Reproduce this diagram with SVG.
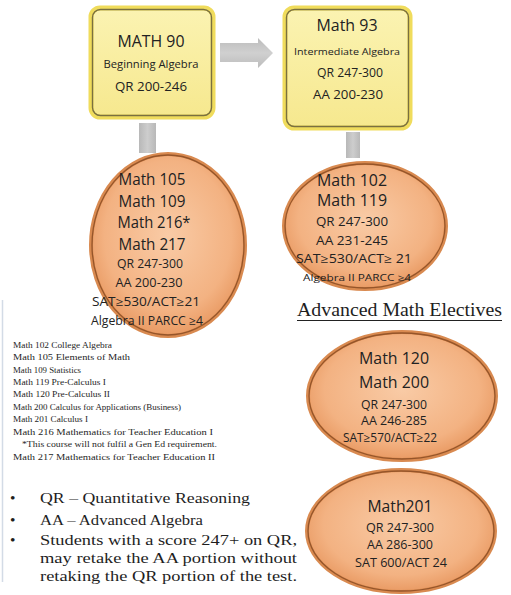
<svg xmlns="http://www.w3.org/2000/svg" width="511" height="595" viewBox="0 0 511 595">
<defs>
<linearGradient id="gy" x1="0" y1="0" x2="0" y2="1">
<stop offset="0" stop-color="#fbf3b2"/>
<stop offset="1" stop-color="#f6e88e"/>
</linearGradient>
<radialGradient id="go" cx="0.5" cy="0.45" r="0.55">
<stop offset="0" stop-color="#f9cba6"/>
<stop offset="0.75" stop-color="#f3b282"/>
<stop offset="1" stop-color="#e99a63"/>
</radialGradient>
<linearGradient id="gg" x1="0" y1="0" x2="1" y2="0">
<stop offset="0" stop-color="#b8b8b8"/>
<stop offset="0.5" stop-color="#cdcdcd"/>
<stop offset="1" stop-color="#b8b8b8"/>
</linearGradient>
<linearGradient id="gh" x1="0" y1="0" x2="0" y2="1">
<stop offset="0" stop-color="#bcbcbc"/>
<stop offset="0.5" stop-color="#d0d0d0"/>
<stop offset="1" stop-color="#bcbcbc"/>
</linearGradient>
</defs>
<style>
.box{fill:url(#gy);stroke:#f0dc5c;stroke-width:5}
.boxin{fill:none;stroke:#7a7040;stroke-width:1.4}
.ell{fill:url(#go);stroke:#d98a50;stroke-width:4}
.ellin{fill:none;stroke:#95552a;stroke-width:1.3}
.s{font-family:"Open Sans","Liberation Sans",sans-serif;fill:#222;text-anchor:middle}
.r{font-family:"Liberation Serif",serif;fill:#1e1e1e}
.big{font-size:16px}
.mid{font-size:12px}
.sm{font-size:9.5px}
.leg{font-size:9px}
.bul{font-size:15.5px}
</style>
<rect width="511" height="595" fill="#ffffff"/>
<line x1="2.5" y1="300" x2="2.5" y2="582" stroke="#d3dbe6" stroke-width="1.5"/>

<g id="connectors">
<path d="M220,43 H258 V38 L273,53 L258,68 V62 H220 Z" fill="url(#gh)"/>
<rect x="139" y="123" width="17" height="30" fill="url(#gg)"/>
<rect x="346" y="132" width="14" height="26" fill="url(#gg)"/>
</g>

<g id="math90">
<rect class="box" x="91" y="8" width="122" height="109" rx="9"/>
<rect class="boxin" x="92.5" y="9.5" width="119" height="106" rx="8"/>
<text class="s" x="151" y="47" font-size="15.5" textLength="67" lengthAdjust="spacingAndGlyphs">MATH 90</text>
<text class="s" x="151" y="68" font-size="10" textLength="95" lengthAdjust="spacingAndGlyphs">Beginning Algebra</text>
<text class="s" x="151" y="91" font-size="13.5" textLength="72" lengthAdjust="spacingAndGlyphs">QR 200-246</text>
</g>

<g id="math93">
<rect class="box" x="285" y="8" width="125" height="120" rx="9"/>
<rect class="boxin" x="286.5" y="9.5" width="122" height="117" rx="8"/>
<text class="s" x="347" y="31" font-size="15.5" textLength="61" lengthAdjust="spacingAndGlyphs">Math 93</text>
<text class="s" x="347" y="55" font-size="9.5" textLength="106" lengthAdjust="spacingAndGlyphs">Intermediate Algebra</text>
<text class="s" x="350" y="77" font-size="13.5" textLength="66" lengthAdjust="spacingAndGlyphs">QR 247-300</text>
<text class="s" x="348" y="99" font-size="13.5" textLength="70" lengthAdjust="spacingAndGlyphs">AA 200-230</text>
</g>

<g id="math105">
<ellipse class="ell" cx="168" cy="245" rx="77" ry="91"/>
<ellipse class="ellin" cx="168" cy="245" rx="76" ry="90"/>
<text class="s big" x="152" y="185" textLength="67" lengthAdjust="spacingAndGlyphs">Math 105</text>
<text class="s big" x="152" y="207" textLength="67" lengthAdjust="spacingAndGlyphs">Math 109</text>
<text class="s big" x="154" y="228" textLength="73" lengthAdjust="spacingAndGlyphs">Math 216*</text>
<text class="s big" x="152" y="250" textLength="67" lengthAdjust="spacingAndGlyphs">Math 217</text>
<text class="s mid" x="150" y="268" textLength="66" lengthAdjust="spacingAndGlyphs">QR 247-300</text>
<text class="s mid" x="149" y="287" textLength="67" lengthAdjust="spacingAndGlyphs">AA 200-230</text>
<text class="s mid" x="146" y="306" textLength="108" lengthAdjust="spacingAndGlyphs">SAT≥530/ACT≥21</text>
<text class="s mid" x="147" y="325" textLength="112" lengthAdjust="spacingAndGlyphs">Algebra II PARCC ≥4</text>
</g>

<g id="math102">
<ellipse class="ell" cx="365" cy="226" rx="81" ry="63"/>
<ellipse class="ellin" cx="365" cy="226" rx="80" ry="62"/>
<text class="s big" x="352" y="186" textLength="70" lengthAdjust="spacingAndGlyphs">Math 102</text>
<text class="s big" x="352" y="206" textLength="70" lengthAdjust="spacingAndGlyphs">Math 119</text>
<text class="s mid" x="352" y="226" textLength="72" lengthAdjust="spacingAndGlyphs">QR 247-300</text>
<text class="s mid" x="352" y="245" textLength="72" lengthAdjust="spacingAndGlyphs">AA 231-245</text>
<text class="s mid" x="354" y="263" textLength="116" lengthAdjust="spacingAndGlyphs">SAT≥530/ACT≥ 21</text>
<text class="s" x="357" y="281" font-size="9" textLength="108" lengthAdjust="spacingAndGlyphs">Algebra II PARCC ≥4</text>
</g>

<g id="heading">
<text class="r" x="297" y="316" font-size="18" textLength="205" lengthAdjust="spacingAndGlyphs">Advanced Math Electives</text>
<line x1="297" y1="320.5" x2="502" y2="320.5" stroke="#222" stroke-width="1"/>
</g>

<g id="math120">
<ellipse class="ell" cx="402" cy="396" rx="94" ry="64"/>
<ellipse class="ellin" cx="402" cy="396" rx="93" ry="63"/>
<text class="s big" x="394" y="364" textLength="70" lengthAdjust="spacingAndGlyphs">Math 120</text>
<text class="s big" x="394" y="388" textLength="70" lengthAdjust="spacingAndGlyphs">Math 200</text>
<text class="s mid" x="394" y="409" textLength="66" lengthAdjust="spacingAndGlyphs">QR 247-300</text>
<text class="s mid" x="394" y="425" textLength="66" lengthAdjust="spacingAndGlyphs">AA 246-285</text>
<text class="s mid" x="390" y="442" textLength="94" lengthAdjust="spacingAndGlyphs">SAT≥570/ACT≥22</text>
</g>

<g id="math201">
<ellipse class="ell" cx="401" cy="531" rx="94" ry="61"/>
<ellipse class="ellin" cx="401" cy="531" rx="93" ry="60"/>
<text class="s big" x="400" y="512" textLength="65" lengthAdjust="spacingAndGlyphs">Math201</text>
<text class="s mid" x="400" y="532" textLength="68" lengthAdjust="spacingAndGlyphs">QR 247-300</text>
<text class="s mid" x="400" y="549" textLength="66" lengthAdjust="spacingAndGlyphs">AA 286-300</text>
<text class="s mid" x="401" y="567" textLength="92" lengthAdjust="spacingAndGlyphs">SAT 600/ACT 24</text>
</g>

<g id="legend" class="r leg">
<text x="13" y="348" textLength="99" lengthAdjust="spacingAndGlyphs">Math 102 College Algebra</text>
<text x="13" y="360" textLength="117" lengthAdjust="spacingAndGlyphs">Math 105 Elements of Math</text>
<text x="13" y="373" textLength="68" lengthAdjust="spacingAndGlyphs">Math 109 Statistics</text>
<text x="13" y="385" textLength="93" lengthAdjust="spacingAndGlyphs">Math 119 Pre-Calculus I</text>
<text x="13" y="397" textLength="97" lengthAdjust="spacingAndGlyphs">Math 120 Pre-Calculus II</text>
<text x="13" y="410" textLength="168" lengthAdjust="spacingAndGlyphs">Math 200 Calculus for Applications (Business)</text>
<text x="13" y="422" textLength="75" lengthAdjust="spacingAndGlyphs">Math 201 Calculus I</text>
<text x="13" y="435" textLength="200" lengthAdjust="spacingAndGlyphs">Math 216 Mathematics for Teacher Education I</text>
<text x="22" y="447" textLength="195" lengthAdjust="spacingAndGlyphs">*This course will not fulfil a Gen Ed requirement.</text>
<text x="13" y="460" textLength="202" lengthAdjust="spacingAndGlyphs">Math 217 Mathematics for Teacher Education II</text>
</g>

<g id="notes" class="r bul">
<text x="10" y="503">•</text>
<text x="40" y="503" textLength="210" lengthAdjust="spacingAndGlyphs">QR – Quantitative Reasoning</text>
<text x="10" y="525">•</text>
<text x="40" y="525" textLength="163" lengthAdjust="spacingAndGlyphs">AA – Advanced Algebra</text>
<text x="10" y="545">•</text>
<text x="40" y="545" textLength="257" lengthAdjust="spacingAndGlyphs">Students with a score 247+ on QR,</text>
<text x="40" y="563" textLength="257" lengthAdjust="spacingAndGlyphs">may retake the AA portion without</text>
<text x="40" y="581" textLength="257" lengthAdjust="spacingAndGlyphs">retaking the QR portion of the test.</text>
</g>
</svg>
